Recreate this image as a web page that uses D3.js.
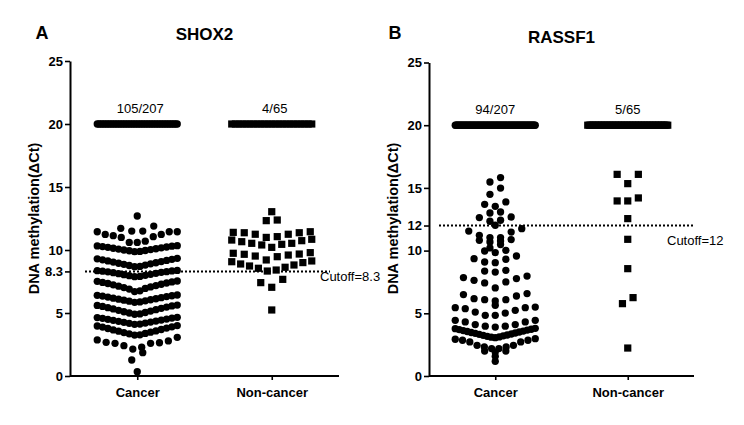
<!DOCTYPE html>
<html><head><meta charset="utf-8">
<script src="https://cdn.jsdelivr.net/npm/d3@7"></script>
<style>body{margin:0;background:#fff}svg{display:block;font-family:"Liberation Sans",Arial,sans-serif}</style>
</head><body><svg id="c" width="744" height="425"></svg>
<script>
// ---------------- data ----------------
const categories = ["Cancer", "Non-cancer"];
const groupTotals = [207, 65];
const cappedValue = 20; // samples without amplification are shown at ΔCt = 20

const shox2Cancer = [0.34, 1.27, 1.85,
  2.14, 2.28, 2.41, 2.59, 2.59, 2.64, 2.67, 2.78, 2.86, 3.07,
  3.25, 3.27, 3.35, 3.38, 3.45, 3.48, 3.56, 3.58, 3.66, 3.69, 3.77, 3.8, 3.88, 3.9, 3.97, 4.0,
  4.1, 4.12, 4.18, 4.2, 4.26, 4.28, 4.34, 4.36, 4.42, 4.44, 4.5, 4.52, 4.58, 4.6, 4.64, 4.66,
  4.9, 4.93, 5.0, 5.04, 5.1, 5.15, 5.21, 5.26, 5.32, 5.37, 5.42, 5.47, 5.52, 5.56, 5.6, 5.63,
  5.85, 5.88, 5.94, 5.97, 6.02, 6.05, 6.1, 6.13, 6.18, 6.22, 6.26, 6.3, 6.34, 6.37, 6.4, 6.43,
  6.7, 6.76, 6.9, 6.95, 7.02, 7.07, 7.13, 7.18, 7.24, 7.28, 7.34, 7.38, 7.43, 7.47, 7.51, 7.54,
  7.88, 7.9, 7.96, 7.99, 8.04, 8.07, 8.12, 8.15, 8.2, 8.23, 8.27, 8.28, 8.32, 8.34, 8.36, 8.38,
  8.68, 8.7, 8.77, 8.8, 8.86, 8.9, 8.95, 8.99, 9.04, 9.08, 9.13, 9.17, 9.22, 9.26, 9.3, 9.34,
  9.87, 9.89, 9.94, 9.96, 10.0, 10.03, 10.07, 10.1, 10.14, 10.17, 10.21, 10.24, 10.27, 10.3, 10.32, 10.34,
  10.6, 10.6, 10.7, 11.0, 11.06, 11.14, 11.24, 11.24, 11.45, 11.45, 11.45,
  11.5, 11.5, 11.72, 11.9, 12.7];
const shox2NonCancer = [5.24, 7.04, 7.41, 7.67,
  8.33, 8.41, 8.55, 8.63, 8.73, 8.81, 8.89, 9.0, 9.07, 9.13,
  9.21, 9.47, 9.52, 9.6, 9.66, 9.68, 9.74, 9.79,
  10.21, 10.4, 10.45, 10.53, 10.53, 10.66, 10.74, 10.79, 10.85,
  11.0, 11.06, 11.25, 11.25, 11.37, 11.37, 11.4, 11.45, 12.33, 12.38, 13.04];
const rassf1Cancer = [1.17, 1.57, 1.91, 1.99, 1.99,
  2.19, 2.19, 2.32, 2.32, 2.45, 2.45, 2.72, 2.72, 2.85, 2.85, 2.93, 2.98,
  3.06, 3.1, 3.12, 3.16, 3.2, 3.24, 3.27, 3.32, 3.35, 3.4, 3.43, 3.47, 3.51, 3.55, 3.58, 3.62, 3.66, 3.7, 3.73, 3.77, 3.8,
  3.9, 3.97, 3.97, 4.1, 4.1, 4.31, 4.31, 4.44, 4.44,
  4.84, 4.84, 5.02, 5.1, 5.24, 5.37, 5.45, 5.45, 5.5, 5.64,
  5.98, 6.09, 6.09, 6.17, 6.38, 6.49, 6.57,
  7.02, 7.42, 7.5, 7.63, 7.77, 7.85, 7.97, 8.29, 8.37, 8.43,
  9.04, 9.09, 9.31, 9.36, 9.57, 9.84, 9.97, 10.02, 10.21, 10.48,
  10.69, 10.77, 10.82, 10.88, 11.04, 11.04, 11.22, 11.48, 11.56, 11.75,
  12.02, 12.34, 12.42, 12.63, 12.68, 13.0, 13.08, 13.53, 13.69, 13.88, 14.49, 14.99, 15.47, 15.82];
const rassf1NonCancer = [2.23, 5.77, 6.25, 8.56, 10.9, 12.55, 13.96, 13.96, 14.2, 15.34, 16.08, 16.08];

// row boundaries used by the dot-plot layout (value units)
const shox2CancerRows = [1.0, 2.0, 3.15, 4.05, 4.8, 5.75, 6.6, 7.7, 8.5, 9.6, 10.5, 11.48, 12.3, 19];
const shox2NonCancerRows = [6, 8, 9.18, 9.9, 10.95, 12, 12.8, 19];
const rassf1CancerRows = [1.4, 1.75, 2.1, 3.02, 3.85, 4.6, 5.6, 5.8, 6.8, 8.1, 8.7, 9.7, 10.1, 10.6, 10.95, 11.9, 12.2, 12.85, 13.3, 14.2, 15.2, 19];
const rassf1NonCancerRows = [4, 7, 9.5, 11.7, 13.3, 15, 19];

const shox2Counts = ["105/207", "4/65"];
const rassf1Counts = ["94/207", "5/65"];
const shox2Ticks = [0, 5, 8.3, 10, 15, 20, 25];
const rassf1Ticks = [0, 5, 10, 12, 15, 20, 25];
const shox2Cutoff = 8.3, rassf1Cutoff = 12;

// ---------------- drawing ----------------
const svg = d3.select("#c");

function withCapped(values, total) {
  return values.concat(Array.from({length: total - values.length}, () => cappedValue));
}

function layout(values, rows, cx, sMax, W) {
  const groups = d3.groups(values, v => d3.bisectRight(rows, v));
  const out = [];
  groups.forEach(([, vs]) => {
    vs = vs.slice().sort(d3.ascending);
    const n = vs.length;
    const s = n > 1 ? Math.min(sMax, W / (n - 1)) : 0;
    vs.forEach((v, i) => {
      let k;
      if (n % 2 === 1) k = i === 0 ? 0 : (i % 2 === 1 ? -Math.ceil(i / 2) : Math.ceil(i / 2));
      else { const m = Math.floor(i / 2) + 0.5; k = i % 2 === 0 ? -m : m; }
      out.push({v, dx: k * s});
    });
  });
  return out;
}

const panels = [
  {letter: "A", gene: "SHOX2", xr: [70, 339], yr: [376, 61], ticks: shox2Ticks, cutoff: shox2Cutoff,
   groups: [[shox2Cancer, shox2CancerRows], [shox2NonCancer, shox2NonCancerRows]], counts: shox2Counts,
   sMax: 11, cut: [15, -9], cutText: {dx: 250, dy: 10}, countDx: 3},
  {letter: "B", gene: "RASSF1", xr: [429, 694], yr: [376, 62.5], ticks: rassf1Ticks, cutoff: rassf1Cutoff,
   groups: [[rassf1Cancer, rassf1CancerRows], [rassf1NonCancer, rassf1NonCancerRows]], counts: rassf1Counts,
   sMax: 10.6, cut: [10, 0], cutText: {dx: 238, dy: 19}, countDx: 0}
];

panels.forEach(p => {
  const x = d3.scalePoint().domain(categories).range(p.xr).padding(0.5);
  const y = d3.scaleLinear().domain([0, 25]).range(p.yr);
  const g = svg.append("g");

  // y axis
  const ya = g.append("g").attr("transform", `translate(${p.xr[0]},0)`)
    .call(d3.axisLeft(y).tickValues(p.ticks).tickFormat(d => d).tickSize(5).tickSizeOuter(0).tickPadding(2));
  ya.select(".domain").attr("stroke-width", 2);
  ya.selectAll(".tick line").attr("stroke-width", 1.6);
  ya.selectAll(".tick text").attr("font-size", 13).attr("font-weight", "bold").attr("fill", "#000")
    .attr("font-family", "Liberation Sans, Arial, sans-serif");

  // x axis
  const xa = g.append("g").attr("transform", `translate(0,${p.yr[0]})`)
    .call(d3.axisBottom(x).tickSize(4).tickSizeOuter(0).tickPadding(8));
  xa.select(".domain").attr("stroke-width", 2).attr("d", `M${p.xr[0]},0H${p.xr[1]}`);
  xa.selectAll(".tick line").attr("stroke-width", 1.6);
  xa.selectAll(".tick text").attr("font-size", 13).attr("font-weight", "bold").attr("fill", "#000")
    .attr("font-family", "Liberation Sans, Arial, sans-serif");

  // cutoff
  g.append("line").attr("x1", p.xr[0] + p.cut[0]).attr("x2", p.xr[1] + p.cut[1])
    .attr("y1", y(p.cutoff)).attr("y2", y(p.cutoff))
    .attr("stroke", "#000").attr("stroke-width", 2).attr("stroke-dasharray", "2,2");
  g.append("text").attr("x", p.xr[0] + p.cutText.dx).attr("y", y(p.cutoff) + p.cutText.dy)
    .attr("font-size", 13).text("Cutoff=" + p.cutoff);

  // points
  p.groups.forEach(([vals, rows], gi) => {
    const cat = categories[gi];
    const pts = layout(withCapped(vals, groupTotals[gi]), rows, x(cat), p.sMax, 80);
    if (gi === 0) {
      g.append("g").selectAll("circle").data(pts).join("circle")
        .attr("cx", d => x(cat) + d.dx).attr("cy", d => y(d.v)).attr("r", 3.65).attr("fill", "#000");
    } else {
      g.append("g").selectAll("rect").data(pts).join("rect")
        .attr("x", d => x(cat) + d.dx - 3.6).attr("y", d => y(d.v) - 3.6)
        .attr("width", 7.2).attr("height", 7.2).attr("fill", "#000");
    }
    g.append("text").attr("x", x(cat) + p.countDx).attr("y", y(cappedValue) - 11)
      .attr("text-anchor", "middle").attr("font-size", 13).text(p.counts[gi]);
  });

  // titles
  g.append("text").attr("x", (p.xr[0] + p.xr[1]) / 2).attr("y", 40 + (p.letter === "B" ? 2.5 : 0))
    .attr("text-anchor", "middle").attr("font-size", 17).attr("font-weight", "bold").text(p.gene);
  g.append("text").attr("x", p.xr[0] - (p.letter === "A" ? 34.5 : 40.5)).attr("y", 39)
    .attr("font-size", 18).attr("font-weight", "bold").text(p.letter);
  g.append("text").attr("transform", `translate(${p.xr[0] - 31},218.5) rotate(-90)`)
    .attr("text-anchor", "middle").attr("font-size", 14.5).attr("font-weight", "bold")
    .text("DNA methylation(ΔCt)");
});
</script></body></html>
